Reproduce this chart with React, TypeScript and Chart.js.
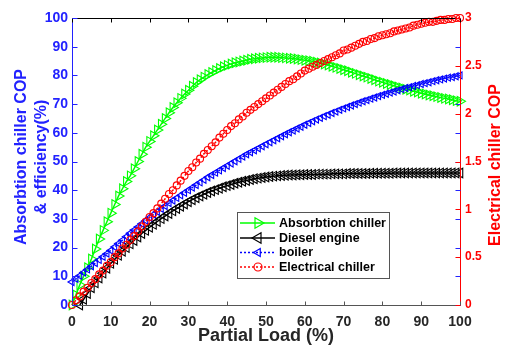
import React, { useEffect, useRef } from 'react';
import { Chart, registerables } from 'chart.js';

Chart.register(...registerables);

const loads = [
  0, 1, 2, 3, 4, 5, 6, 7, 8, 9, 10, 11, 12, 13, 14, 15, 16, 17, 18, 19, 20,
  21, 22, 23, 24, 25, 26, 27, 28, 29, 30, 31, 32, 33, 34, 35, 36, 37, 38, 39, 40,
  41, 42, 43, 44, 45, 46, 47, 48, 49, 50, 51, 52, 53, 54, 55, 56, 57, 58, 59, 60,
  61, 62, 63, 64, 65, 66, 67, 68, 69, 70, 71, 72, 73, 74, 75, 76, 77, 78, 79, 80,
  81, 82, 83, 84, 85, 86, 87, 88, 89, 90, 91, 92, 93, 94, 95, 96, 97, 98, 99, 100,
];

// Absorbtion chiller COP & efficiency (%), left axis
const absorptionChiller = [
  0, 3.5, 7, 10, 13, 16, 19.5, 23, 26, 29, 32,
  35, 38, 40.5, 43, 45, 47.5, 50, 52.5, 55, 57,
  59, 61, 63, 65, 67, 68.8, 70.5, 72, 73.5, 74.8,
  76.2, 77.5, 78.5, 79.4, 80.3, 81, 81.7, 82.4, 83, 83.5,
  84, 84.4, 84.7, 85, 85.3, 85.6, 85.8, 86, 86.1, 86.2,
  86.3, 86.3, 86.3, 86.2, 86.1, 86, 85.9, 85.7, 85.5, 85.3,
  85.1, 84.9, 84.6, 84.3, 84, 83.6, 83.2, 82.8, 82.4, 82,
  81.6, 81.1, 80.7, 80.2, 79.8, 79.4, 78.9, 78.5, 78, 77.6,
  77.2, 76.8, 76.4, 76, 75.6, 75.2, 74.9, 74.5, 74.2, 73.8,
  73.5, 73.2, 72.9, 72.6, 72.3, 72, 71.8, 71.5, 71.2, 71,
];

// Diesel engine efficiency (%), left axis
const dieselEngine = [
  null, null, 0, 2, 4, 6, 7.7, 9.4, 11.1, 12.8, 14.5,
  15.9, 17.3, 18.7, 20, 21.3, 22.5, 23.7, 24.9, 26, 27.1,
  28.1, 29.1, 30.1, 31, 31.9, 32.8, 33.6, 34.4, 35.2, 36,
  36.7, 37.4, 38, 38.6, 39.2, 39.7, 40.2, 40.7, 41.2, 41.6,
  42, 42.4, 42.8, 43.1, 43.4, 43.7, 44, 44.2, 44.4, 44.6,
  44.8, 44.9, 45, 45.1, 45.2, 45.3, 45.3, 45.4, 45.4, 45.5,
  45.5, 45.5, 45.6, 45.6, 45.6, 45.6, 45.7, 45.7, 45.7, 45.7,
  45.8, 45.8, 45.8, 45.8, 45.8, 45.8, 45.9, 45.9, 45.9, 45.9,
  45.9, 45.9, 46, 46, 46, 46, 46, 46, 46, 46,
  46, 46, 46, 46, 46, 46, 46, 46, 46, 46,
];

// Boiler efficiency (%), left axis
const boiler = [
  8, 9.1, 10.2, 11.3, 12.4, 13.5, 14.6, 15.7, 16.8, 17.9, 19,
  20.2, 21.4, 22.6, 23.8, 25, 26.1, 27.2, 28.3, 29.4, 30.5,
  31.5, 32.5, 33.5, 34.5, 35.5, 36.4, 37.3, 38.2, 39.1, 40,
  40.9, 41.8, 42.7, 43.6, 44.5, 45.3, 46.1, 46.9, 47.7, 48.5,
  49.3, 50.1, 50.9, 51.7, 52.5, 53.2, 53.9, 54.6, 55.3, 56,
  56.7, 57.4, 58.1, 58.8, 59.5, 60.2, 60.8, 61.5, 62.1, 62.8,
  63.4, 64, 64.6, 65.2, 65.8, 66.3, 66.9, 67.4, 68, 68.5,
  69, 69.5, 70, 70.5, 71, 71.4, 71.9, 72.3, 72.8, 73.2,
  73.6, 74, 74.4, 74.8, 75.2, 75.6, 75.9, 76.3, 76.6, 77,
  77.3, 77.6, 78, 78.3, 78.6, 78.9, 79.2, 79.4, 79.7, 80,
];

// Electrical chiller COP, right axis
const electricalChiller = [
  0, 0.05, 0.09, 0.14, 0.18, 0.23, 0.27, 0.32, 0.36, 0.41, 0.45,
  0.5, 0.54, 0.59, 0.63, 0.68, 0.72, 0.77, 0.82, 0.87, 0.92,
  0.96, 1.01, 1.06, 1.11, 1.16, 1.2, 1.25, 1.3, 1.35, 1.4,
  1.44, 1.49, 1.53, 1.58, 1.62, 1.66, 1.7, 1.75, 1.79, 1.83,
  1.87, 1.9, 1.94, 1.97, 2.01, 2.04, 2.07, 2.1, 2.13, 2.16,
  2.19, 2.22, 2.25, 2.28, 2.31, 2.34, 2.36, 2.39, 2.42, 2.45,
  2.47, 2.49, 2.51, 2.53, 2.55, 2.57, 2.59, 2.61, 2.63, 2.66,
  2.67, 2.69, 2.71, 2.73, 2.75, 2.76, 2.78, 2.79, 2.81, 2.82,
  2.83, 2.84, 2.86, 2.87, 2.88, 2.89, 2.9, 2.92, 2.93, 2.94,
  2.95, 2.96, 2.96, 2.97, 2.98, 2.98, 2.99, 2.99, 3.0, 3.0,
];

const seriesNames = ['Absorbtion chiller', 'Diesel engine', 'boiler', 'Electrical chiller'];
const xTickStep = 10;
const leftTickStep = 10;
const rightTickStep = 0.5;

const FONT = '"Liberation Sans", Arial, Helvetica, sans-serif';
const BLUE = '#2222ff';
const RED = '#ff0000';
const GREEN = '#00ff00';
const BLACK = '#000000';
const GRAY = '#262626';

function strokeLine(ctx: CanvasRenderingContext2D, x1: number, y1: number, x2: number, y2: number, color: string, w = 1) {
  ctx.beginPath();
  ctx.strokeStyle = color;
  ctx.lineWidth = w;
  ctx.moveTo(x1, y1);
  ctx.lineTo(x2, y2);
  ctx.stroke();
}

function marker(ctx: CanvasRenderingContext2D, style: string, rot: number, r: number, x: number, y: number, color: string) {
  ctx.beginPath();
  ctx.strokeStyle = color;
  ctx.lineWidth = 1.2;
  if (style === 'circle') {
    ctx.arc(x, y, r, 0, Math.PI * 2);
  } else {
    let rad = (rot * Math.PI) / 180;
    ctx.moveTo(x + Math.sin(rad) * r, y - Math.cos(rad) * r);
    rad += (2 * Math.PI) / 3;
    ctx.lineTo(x + Math.sin(rad) * r, y - Math.cos(rad) * r);
    rad += (2 * Math.PI) / 3;
    ctx.lineTo(x + Math.sin(rad) * r, y - Math.cos(rad) * r);
    ctx.closePath();
  }
  ctx.stroke();
}

const decorPlugin = {
  id: 'decor',
  afterDraw(chart: any) {
    const { ctx, chartArea: a, scales } = chart;
    const xs = scales.x;
    const yl = scales.y;
    const yr = scales.y1;
    ctx.save();
    const L = a.left + 0.5;
    const R = a.right + 0.5;
    const T = a.top + 0.5;
    const B = a.bottom + 0.5;
    // frame
    strokeLine(ctx, L, T, R, T, BLACK);
    strokeLine(ctx, L, B, R, B, '#555555');
    strokeLine(ctx, L, T, L, B, BLUE);
    strokeLine(ctx, R, T, R, B, RED);
    // inward ticks
    xs.ticks.forEach((t: any) => {
      const px = Math.round(xs.getPixelForValue(t.value)) + 0.5;
      strokeLine(ctx, px, B, px, B - 4, '#555555');
      strokeLine(ctx, px, T, px, T + 4, BLACK);
    });
    yl.ticks.forEach((t: any) => {
      const py = Math.round(yl.getPixelForValue(t.value)) + 0.5;
      strokeLine(ctx, L, py, L + 5, py, BLUE);
      strokeLine(ctx, R, py, R - 5, py, BLUE);
    });
    yr.ticks.forEach((t: any) => {
      const py = Math.round(yr.getPixelForValue(t.value)) + 0.5;
      strokeLine(ctx, R, py, R - 5, py, RED);
    });

    // axis titles
    ctx.textAlign = 'center';
    ctx.textBaseline = 'middle';
    ctx.font = `bold 16px ${FONT}`;
    ctx.fillStyle = BLUE;
    ctx.save();
    ctx.translate(22, 157);
    ctx.rotate(-Math.PI / 2);
    ctx.fillText('Absorbtion chiller COP', 0, 0);
    ctx.restore();
    ctx.save();
    ctx.translate(42, 157);
    ctx.rotate(-Math.PI / 2);
    ctx.fillText('& efficiency(%)', 0, 0);
    ctx.restore();
    ctx.fillStyle = RED;
    ctx.save();
    ctx.translate(496, 165);
    ctx.rotate(-Math.PI / 2);
    ctx.fillText('Electrical chiller COP', 0, 0);
    ctx.restore();
    ctx.fillStyle = GRAY;
    ctx.font = `bold 18px ${FONT}`;
    ctx.fillText('Partial Load (%)', (a.left + a.right) / 2, 336);

    // legend
    const bx = 237.5, by = 212.5, bw = 152, bh = 66;
    ctx.fillStyle = '#ffffff';
    ctx.fillRect(bx, by, bw, bh);
    ctx.strokeStyle = '#555555';
    ctx.lineWidth = 1;
    ctx.strokeRect(bx, by, bw, bh);
    const metas = chart.data.datasets;
    const rowsY = [223, 238, 252.5, 267];
    ctx.font = `bold 12.5px ${FONT}`;
    ctx.textAlign = 'left';
    metas.forEach((ds: any, i: number) => {
      const yy = rowsY[i];
      ctx.save();
      ctx.setLineDash(ds.borderDash || []);
      strokeLine(ctx, 240, yy, 275, yy, ds.borderColor, 1.5);
      ctx.restore();
      marker(ctx, ds.pointStyle, ds.pointRotation || 0, ds.pointRadius + 0.5, 258, yy, ds.borderColor);
      ctx.fillStyle = BLACK;
      ctx.fillText(ds.label, 279, yy + 0.5);
    });
    ctx.restore();
  },
};

export default function App() {
  const ref = useRef<HTMLCanvasElement | null>(null);
  useEffect(() => {
    if (!ref.current) return;
    const mk = (arr: (number | null)[]) => arr.map((v, i) => ({ x: loads[i], y: v }));
    const chart = new Chart(ref.current, {
      type: 'line',
      data: {
        datasets: [
          {
            label: seriesNames[0],
            data: mk(absorptionChiller) as any,
            yAxisID: 'y',
            borderColor: GREEN,
            backgroundColor: 'rgba(0,0,0,0)',
            borderWidth: 1.5,
            pointStyle: 'triangle',
            pointRotation: 90,
            pointRadius: 5.5,
            pointBorderWidth: 1.1,
            pointBackgroundColor: 'rgba(0,0,0,0)',
            pointBorderColor: GREEN,
            order: 3,
            clip: false as any,
          },
          {
            label: seriesNames[1],
            data: mk(dieselEngine) as any,
            yAxisID: 'y',
            borderColor: BLACK,
            backgroundColor: 'rgba(0,0,0,0)',
            borderWidth: 1.5,
            pointStyle: 'triangle',
            pointRotation: -90,
            pointRadius: 5.5,
            pointBorderWidth: 1.1,
            pointBackgroundColor: 'rgba(0,0,0,0)',
            pointBorderColor: BLACK,
            order: 2,
            clip: false as any,
          },
          {
            label: seriesNames[2],
            data: mk(boiler) as any,
            yAxisID: 'y',
            borderColor: '#0000ff',
            backgroundColor: 'rgba(0,0,0,0)',
            borderWidth: 1.5,
            borderDash: [2, 2],
            pointStyle: 'triangle',
            pointRotation: -90,
            pointRadius: 4,
            pointBorderWidth: 1.1,
            pointBackgroundColor: 'rgba(0,0,0,0)',
            pointBorderColor: '#0000ff',
            order: 1,
            clip: false as any,
          },
          {
            label: seriesNames[3],
            data: mk(electricalChiller) as any,
            yAxisID: 'y1',
            borderColor: RED,
            backgroundColor: 'rgba(0,0,0,0)',
            borderWidth: 1.5,
            borderDash: [2, 2],
            pointStyle: 'circle',
            pointRadius: 3.5,
            pointBorderWidth: 1.1,
            pointBackgroundColor: 'rgba(0,0,0,0)',
            pointBorderColor: RED,
            order: 0,
            clip: false as any,
          },
        ],
      },
      options: {
        responsive: false,
        animation: false,
        events: [],
        layout: { padding: { top: 18, left: 0, right: 0, bottom: 0 } },
        plugins: { legend: { display: false }, tooltip: { enabled: false } },
        scales: {
          x: {
            type: 'linear',
            min: 0,
            max: 100,
            grid: { display: false, drawTicks: false },
            border: { display: false },
            ticks: {
              stepSize: xTickStep,
              padding: 9,
              color: GRAY,
              font: { family: FONT, size: 14, weight: 'bold' },
              maxRotation: 0,
            },
            afterFit: (s: any) => { s.height = 41; },
          },
          y: {
            type: 'linear',
            position: 'left',
            min: 0,
            max: 100,
            grid: { display: false, drawTicks: false },
            border: { display: false },
            ticks: {
              stepSize: leftTickStep,
              padding: 4,
              color: BLUE,
              font: { family: FONT, size: 14, weight: 'bold' },
            },
            afterFit: (s: any) => { s.width = 72; },
          },
          y1: {
            type: 'linear',
            position: 'right',
            min: 0,
            max: 3,
            grid: { display: false, drawTicks: false },
            border: { display: false },
            ticks: {
              stepSize: rightTickStep,
              padding: 5,
              color: RED,
              font: { family: FONT, size: 12, weight: 'bold' },
              callback: (v: any) => String(v),
            },
            afterFit: (s: any) => { s.width = 45; },
          },
        },
      },
      plugins: [decorPlugin],
    });
    return () => chart.destroy();
  }, []);
  return (
    <div style={{ position: 'absolute', left: 0, top: 0, width: 505, height: 346, background: '#fff' }}>
      <canvas ref={ref} width={505} height={346} style={{ display: 'block' }} />
    </div>
  );
}
